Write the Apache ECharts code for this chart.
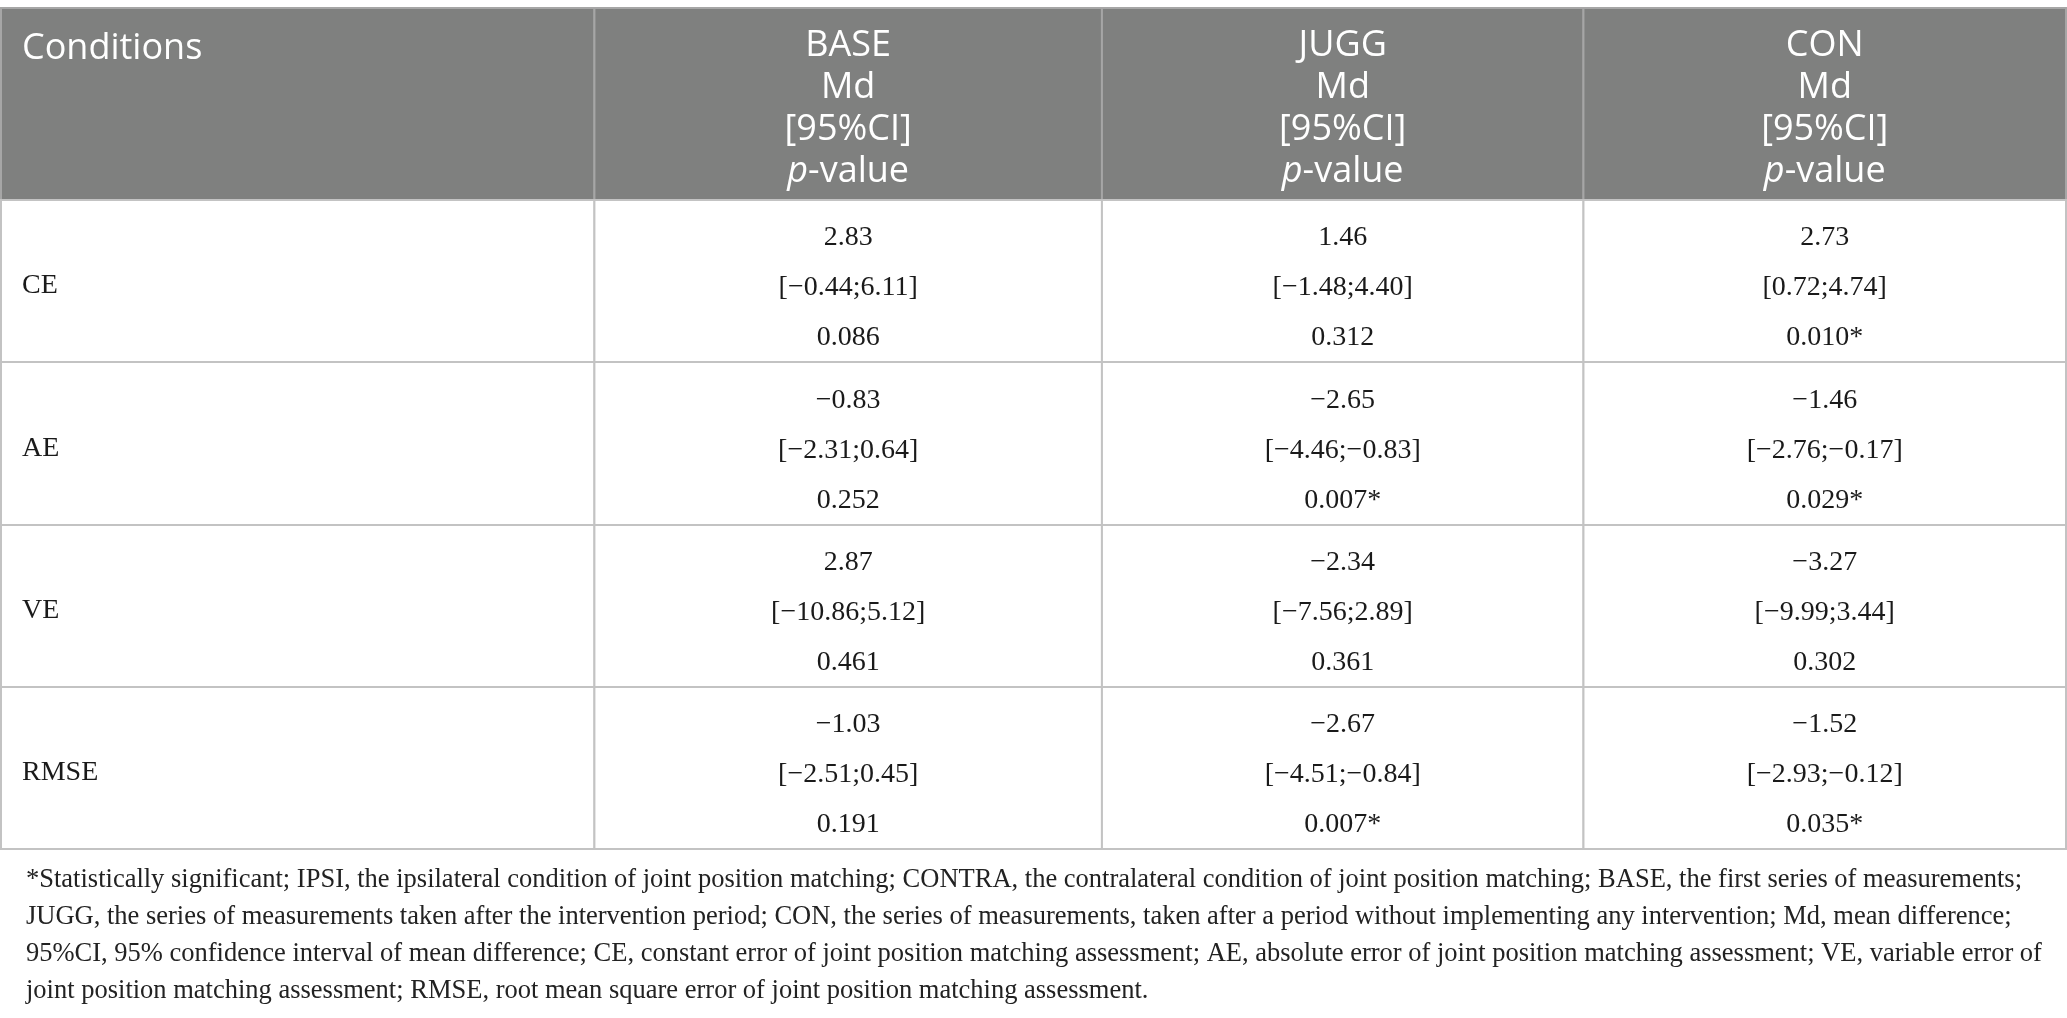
<!DOCTYPE html>
<html>
<head>
<meta charset="utf-8">
<script src="https://cdn.jsdelivr.net/npm/echarts@6/dist/echarts.min.js"></script>
<style>
  html, body { margin: 0; padding: 0; background: #fff; }
  #chart { width: 2067px; height: 1018px; }
</style>
</head>
<body>
<div id="chart"></div>
<script>
// table content
const conditions = ['CE', 'AE', 'VE', 'RMSE']
const groups = ['BASE', 'JUGG', 'CON']
const headerLines = ['Md', '[95%CI]', 'p-value']

const mdBase = [2.83, -0.83, 2.87, -1.03]
const ciBase = [[-0.44, 6.11], [-2.31, 0.64], [-10.86, 5.12], [-2.51, 0.45]]
const pBase = [0.086, 0.252, 0.461, 0.191]

const mdJugg = [1.46, -2.65, -2.34, -2.67]
const ciJugg = [[-1.48, 4.40], [-4.46, -0.83], [-7.56, 2.89], [-4.51, -0.84]]
const pJugg = [0.312, 0.007, 0.361, 0.007]

const mdCon = [2.73, -1.46, -3.27, -1.52]
const ciCon = [[0.72, 4.74], [-2.76, -0.17], [-9.99, 3.44], [-2.93, -0.12]]
const pCon = [0.010, 0.029, 0.302, 0.035]

const footnoteLines = [
  '*Statistically significant; IPSI, the ipsilateral condition of joint position matching; CONTRA, the contralateral condition of joint position matching; BASE, the first series of measurements;',
  'JUGG, the series of measurements taken after the intervention period; CON, the series of measurements, taken after a period without implementing any intervention; Md, mean difference;',
  '95%CI, 95% confidence interval of mean difference; CE, constant error of joint position matching assessment; AE, absolute error of joint position matching assessment; VE, variable error of',
  'joint position matching assessment; RMSE, root mean square error of joint position matching assessment.'
]

// layout (column widths / row heights in axis units)
const colWidths = [594, 508, 482, 483]
const rowHeights = [192, 162, 163, 162, 162]
const colEdges = colWidths.reduce((a, w) => a.concat(a[a.length - 1] + w), [0])
const rowEdges = rowHeights.reduce((a, h) => a.concat(a[a.length - 1] + h), [0])

const fmt = (v, d) => v.toFixed(d).replace('-', '\u2212')
const SIG = 0.05

const mdAll = [mdBase, mdJugg, mdCon]
const ciAll = [ciBase, ciJugg, ciCon]
const pAll = [pBase, pJugg, pCon]

function cellText(col, row) {
  if (row === 0) {
    if (col === 0) return 'Conditions'
    return '{h|' + groups[col - 1] + '}\n{h|' + headerLines[0] + '}\n{h|' + headerLines[1] + '}\n{hi|p}{h|-value}'
  }
  const i = row - 1
  if (col === 0) return conditions[i]
  const g = col - 1
  const ci = ciAll[g][i]
  const p = pAll[g][i]
  return fmt(mdAll[g][i], 2) + '\n[' + fmt(ci[0], 2) + ';' + fmt(ci[1], 2) + ']\n' + fmt(p, 3) + (p < SIG ? '*' : '')
}

const cells = []
for (let r = 0; r <= conditions.length; r++) {
  for (let c = 0; c <= groups.length; c++) cells.push([c, r])
}

const HEAD_BG = '#7f807f'
const LINE = '#c3c3c3'
const SANS = '"Open Sans", "Noto Sans", sans-serif'
const SERIF = '"Liberation Serif", "DejaVu Serif", serif'

function renderItem(params, api) {
  const c = api.value(0)
  const r = api.value(1)
  const p0 = api.coord([colEdges[c], rowEdges[r]])
  const p1 = api.coord([colEdges[c + 1], rowEdges[r + 1]])
  const x = p0[0], y = p0[1], w = p1[0] - p0[0], h = p1[1] - p0[1]
  const head = r === 0
  const text = cellText(c, r)
  let textEl
  if (head && c === 0) {
    textEl = { type: 'text', x: x + 21, y: y + 23, style: { text, fill: '#fff', font: '36px ' + SANS, textAlign: 'left', textVerticalAlign: 'top' } }
  } else if (head) {
    textEl = {
      type: 'text', x: x + w / 2, y: y + h / 2 + 5,
      style: {
        text, textAlign: 'center', textVerticalAlign: 'middle',
        rich: {
          h: { fill: '#fff', fontFamily: SANS, fontSize: 36, lineHeight: 42 },
          hi: { fill: '#fff', fontFamily: SANS, fontSize: 36, lineHeight: 42, fontStyle: 'italic' }
        }
      }
    }
  } else if (c === 0) {
    textEl = { type: 'text', x: x + 21, y: y + h / 2 + 5, style: { text, fill: '#1a1a1a', font: '28px ' + SERIF, textAlign: 'left', textVerticalAlign: 'middle' } }
  } else {
    textEl = {
      type: 'text', x: x + w / 2, y: y + h / 2 + 7,
      style: { text, fill: '#1a1a1a', fontFamily: SERIF, fontSize: 28, lineHeight: 50, textAlign: 'center', textVerticalAlign: 'middle' }
    }
  }
  return {
    type: 'group',
    children: [
      { type: 'rect', shape: { x, y, width: w, height: h }, style: { fill: head ? HEAD_BG : '#fff', stroke: head ? '#a6a6a6' : LINE, lineWidth: 2 } },
      textEl
    ]
  }
}

const chart = echarts.init(document.getElementById('chart'), null, { renderer: 'canvas' })
chart.setOption({
  backgroundColor: '#fff',
  animation: false,
  title: {
    text: footnoteLines.join('\n'),
    left: 21, top: 857,
    textStyle: { fontFamily: SERIF, fontSize: 26.5, fontWeight: 'normal', color: '#222', lineHeight: 37 }
  },
  grid: { left: 1, right: 1, top: 8, height: rowEdges[rowEdges.length - 1] },
  xAxis: { type: 'value', min: 0, max: colEdges[colEdges.length - 1], show: false },
  yAxis: { type: 'value', min: 0, max: rowEdges[rowEdges.length - 1], inverse: true, show: false },
  series: [{
    type: 'custom',
    coordinateSystem: 'cartesian2d',
    renderItem,
    data: cells,
    silent: true
  }]
})
</script>
</body>
</html>
